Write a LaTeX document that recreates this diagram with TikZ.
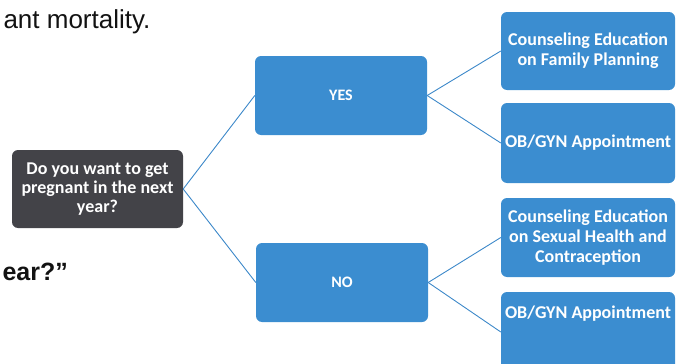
\documentclass[tikz,border=0pt]{standalone}
\usepackage{fontspec}
\setmainfont{Carlito}
\newfontfamily\slidefont{Liberation Sans}
\usepackage{xcolor}
\definecolor{boxdark}{HTML}{434348}
\definecolor{boxblue}{HTML}{3B8DD0}
\definecolor{linkblue}{HTML}{3C88C9}
\definecolor{slidetext}{HTML}{121212}
\usetikzlibrary{positioning}

\begin{document}
\begin{tikzpicture}[x=1pt, y=-1pt,
    choice/.style={rectangle, rounded corners=6pt, fill=boxblue, text=white, minimum width=174pt, minimum height=79pt, align=center, inner sep=2pt, font=\bfseries\fontsize{18}{20}\selectfont},
    boxtext/.style={text=white, inner sep=2pt, font=\bfseries\fontsize{18}{20}\selectfont},
    link/.style={linkblue, line width=0.9pt}]
        \useasboundingbox (0,0) rectangle (686,364);
        % slide text cut off by the crop
        \node[anchor=base west, text=slidetext, font=\slidefont\fontsize{26}{30}\selectfont] (slidetop) at (0,28) {ant mortality.};
        \node[anchor=base west, text=slidetext, font=\slidefont\bfseries\fontsize{25}{30}\selectfont] (slideleft) at (-1,280) {ear?”};
        % question and answers
        \node[choice, fill=boxdark, minimum width=171pt, minimum height=78pt, font=\bfseries\fontsize{18}{19}\selectfont] (ask) at (97.5,189) {Do you want to get\\pregnant in the next\\year?};
        \node[choice, minimum width=172pt, font=\bfseries\fontsize{16}{20}\selectfont] (yes) at (341,95.5) {YES};
        \node[choice, minimum width=172pt, font=\bfseries\fontsize{16}{20}\selectfont] (no) at (342,282.5) {NO};
        % follow-up steps
        \node[choice, minimum height=78pt] (yes1) at (588,51) {Counseling Education\\on Family Planning};
        \node[choice, minimum height=80pt] (yes2) at (588,143) {OB/GYN Appointment};
        \node[choice] (no1) at (588,237.5) {Counseling Education\\on Sexual Health and\\Contraception};
        \node[choice, minimum height=80pt] (no2) at (588,332) {};
        \node[boxtext, below=12pt of no2.north] (no2text) {OB/GYN Appointment};
        % connectors
        \draw[link] (ask.east) -- (yes.west);
        \draw[link] (ask.east) -- (no.west);
        \draw[link] (yes.east) -- (yes1.west);
        \draw[link] (yes.east) -- (yes2.west);
        \draw[link] (no.east) -- (no1.west);
        \draw[link] (no.east) -- (no2.west);
\end{tikzpicture}
\end{document}
